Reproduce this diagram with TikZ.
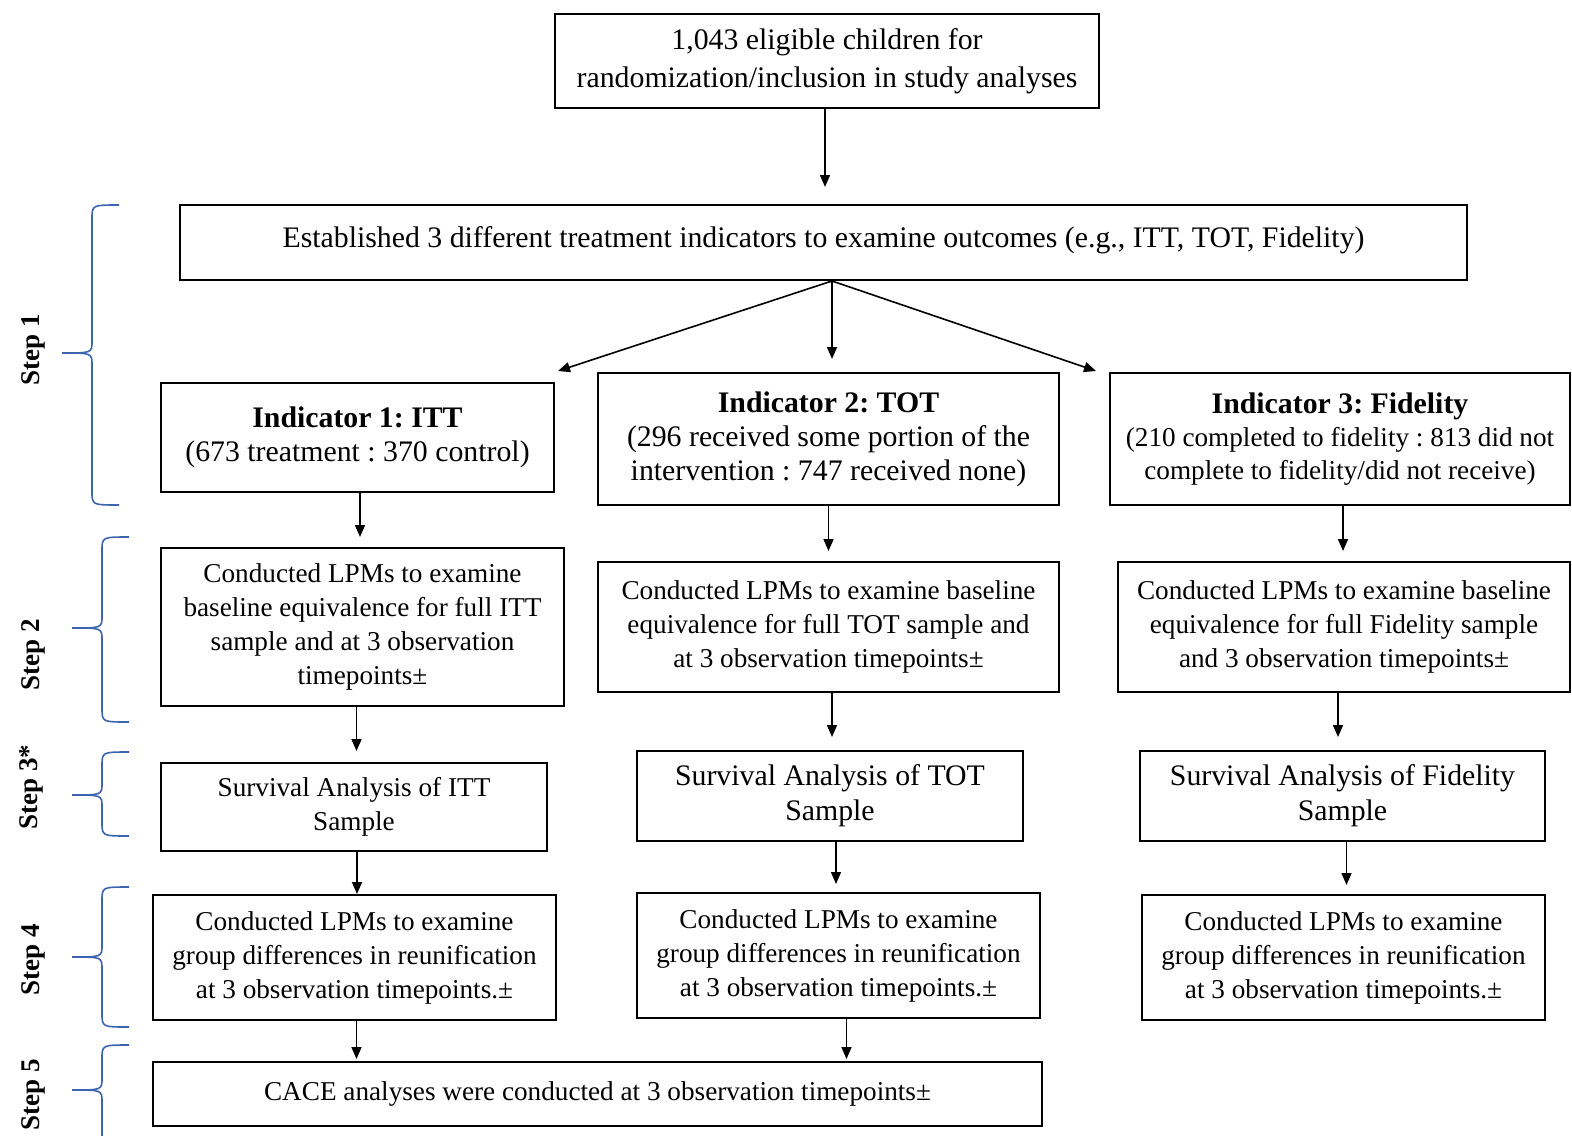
\documentclass[tikz,border=0pt]{standalone}
\usepackage{fontspec}
\setmainfont{Liberation Serif}
\usetikzlibrary{arrows.meta}
\definecolor{bracecol}{RGB}{60,100,175}
\frenchspacing
\tikzset{
  box/.style={draw=black, line width=1pt, inner sep=0pt, align=center, font=\fontsize{13.6pt}{17pt}\selectfont\frenchspacing},
  bigbox/.style={font=\fontsize{14.9pt}{17pt}\selectfont\frenchspacing},
  arr/.style={line width=0.8pt, -{Triangle[length=6pt,width=5pt]}},
  brc/.style={draw=bracecol, line width=0.8pt},
  steplab/.style={rotate=90, font=\fontsize{13.5pt}{16pt}\selectfont\bfseries}
}
% \mybox[opts]{name}{x1}{y1}{x2}{y2}{text}
\newcommand\mybox[7][]{\node[box, #1, minimum width={(#5-#3)*0.5pt}, minimum height={(#6-#4)*0.5pt}] (#2) at ({(#3+#5)/2},{(#4+#6)/2}) {#7};}
% \stepbrace{spine x}{top}{mid}{bottom}
\newcommand\stepbrace[4]{\draw[brc] ({#1+27},#2) .. controls (#1,#2) .. (#1,{#2+14}) -- (#1,{#3-12}) .. controls (#1,#3) .. ({#1-30},#3) .. controls (#1,#3) .. (#1,{#3+12}) -- (#1,{#4-14}) .. controls (#1,#4) .. ({#1+27},#4);}
\begin{document}
\begin{tikzpicture}[x=0.5pt,y=-0.5pt]
\useasboundingbox (0,0) rectangle (1572,1135);
\fill[white] (0,0) rectangle (1572,1135);

\mybox[font=\fontsize{14.9pt}{19pt}\selectfont\frenchspacing]{top}{555}{14}{1099}{108}{1,043 eligible children for\\ randomization/inclusion in study analyses}
\mybox[bigbox]{est}{180}{205}{1467}{280}{\raisebox{5pt}{Established 3 different treatment indicators to examine outcomes (e.g., ITT, TOT, Fidelity)}}

\mybox[bigbox]{ind1}{161}{383}{554}{492}{\textbf{Indicator 1: ITT}\\(673 treatment : 370 control)}
\mybox[bigbox]{ind2}{598}{373}{1059}{505}{\textbf{Indicator 2: TOT}\\(296 received some portion of the\\ intervention : 747 received none)}
\mybox[font=\fontsize{13.6pt}{16.5pt}\selectfont\frenchspacing]{ind3}{1110}{373}{1570}{505}{{\fontsize{14.9pt}{17pt}\selectfont\bfseries Indicator 3: Fidelity}\\(210 completed to fidelity : 813 did not\\ complete to fidelity/did not receive)}

\mybox{sa}{161}{548}{564}{706}{Conducted LPMs to examine\\ baseline equivalence for full ITT\\ sample and at 3 observation\\ timepoints±}
\mybox{sb}{598}{562}{1059}{692}{Conducted LPMs to examine baseline\\ equivalence for full TOT sample and\\ at 3 observation timepoints±}
\mybox{sc}{1118}{562}{1570}{692}{Conducted LPMs to examine baseline\\ equivalence for full Fidelity sample\\ and 3 observation timepoints±}

\mybox{ta}{161}{763}{547}{851}{Survival Analysis of ITT\\ Sample}
\mybox[font=\fontsize{14.9pt}{17.5pt}\selectfont\frenchspacing]{tb}{637}{751}{1023}{841}{Survival Analysis of TOT\\ Sample}
\mybox[font=\fontsize{14.9pt}{17.5pt}\selectfont\frenchspacing]{tc}{1140}{751}{1545}{841}{Survival Analysis of Fidelity\\ Sample}

\mybox{ua}{153}{895}{556}{1020}{Conducted LPMs to examine\\ group differences in reunification\\ at 3 observation timepoints.±}
\mybox{ub}{637}{893}{1040}{1018}{Conducted LPMs to examine\\ group differences in reunification\\ at 3 observation timepoints.±}
\mybox{uc}{1142}{895}{1545}{1020}{Conducted LPMs to examine\\ group differences in reunification\\ at 3 observation timepoints.±}

\mybox{cace}{153}{1062}{1042}{1126}{CACE analyses were conducted at 3 observation timepoints±}

% arrows
\draw[arr, shorten >=17pt*0.5] ([xshift=-1pt]top.south) -- ([xshift=-1pt]top.south |- est.north);
\coordinate (fan) at ([xshift=4.25pt]est.south);
\draw[arr] (fan) -- ([shift={(3,-11)}]ind1.north east);
\draw[arr, shorten >=6.5pt] (fan) -- (fan |- ind2.north);
\draw[arr] (fan) -- ([shift={(-13,-1)}]ind3.north west);

\draw[arr, shorten >=5pt] ([xshift=1.25pt]ind1.south) -- ([xshift=1.25pt]ind1.south |- sa.north);
\draw[arr, shorten >=5pt] (ind2.south) -- (ind2.south |- sb.north);
\draw[arr, shorten >=5pt] ([xshift=1.5pt]ind3.south) -- ([xshift=1.5pt]ind3.south |- sc.north);

\draw[arr, shorten >=5.5pt] ([xshift=-3pt]sa.south) -- ([xshift=-3pt]sa.south |- ta.north);
\draw[arr, shorten >=6.5pt] ([xshift=1.75pt]sb.south) -- ([xshift=1.75pt]sb.south |- tb.north);
\draw[arr, shorten >=6.5pt] ([xshift=-3pt]sc.south) -- ([xshift=-3pt]sc.south |- tc.north);

\draw[arr] ([xshift=1.5pt]ta.south) -- ([xshift=1.5pt]ta.south |- ua.north);
\draw[arr, shorten >=4pt] ([xshift=3pt]tb.south) -- ([xshift=3pt]tb.south |- ub.north);
\draw[arr, shorten >=4.5pt] ([xshift=2pt]tc.south) -- ([xshift=2pt]tc.south |- uc.north);

\draw[arr, shorten >=1pt] ([xshift=1pt]ua.south) -- ([xshift=1pt]ua.south |- cace.north);
\draw[arr, shorten >=1pt] ([xshift=4pt]ub.south) -- ([xshift=4pt]ub.south |- cace.north);

% braces
\stepbrace{92}{205}{353}{505}
\stepbrace{102}{537}{628}{722}
\stepbrace{102}{752}{795}{836}
\stepbrace{102}{887}{957}{1027}
\stepbrace{102}{1045}{1090}{1160}

% step labels
\node[steplab] (l1) at (33,350) {Step 1};
\node[steplab] (l2) at (33,655) {Step 2};
\node[steplab] (l3) at (31,787) {Step 3*};
\node[steplab] (l4) at (33,960) {Step 4};
\node[steplab] (l5) at (33,1095) {Step 5};
\end{tikzpicture}
\end{document}
